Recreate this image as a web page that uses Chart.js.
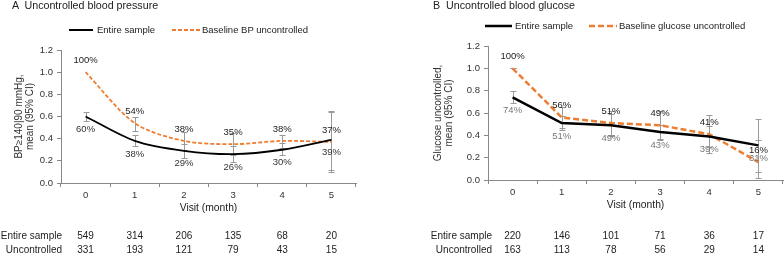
<!DOCTYPE html>
<html>
<head>
<meta charset="utf-8">
<script src="https://cdn.jsdelivr.net/npm/chart.js@4/dist/chart.umd.min.js"></script>
<style>
  body { margin: 0; background: #fff; font-family: "Liberation Sans", Arial, sans-serif; color: #222; }
  #wrap { position: relative; width: 784px; height: 254px; overflow: hidden; }
  canvas { position: absolute; top: 0; }
  .ttl { position: absolute; top: -1px; font-size: 10.7px; line-height: 12px; white-space: pre; color: #222; }
  .leg { position: absolute; font-size: 9.5px; line-height: 11px; white-space: nowrap; color: #222; }
</style>
</head>
<body>
<div id="wrap">
  <canvas id="bpChart" width="392" height="254" style="left:0"></canvas>
  <canvas id="glChart" width="392" height="254" style="left:392px"></canvas>

  <div class="ttl" style="left:12px">A  Uncontrolled blood pressure</div>
  <div class="ttl" style="left:433px">B  Uncontrolled blood glucose</div>

  <svg style="position:absolute;left:0;top:0" width="784" height="40">
    <line x1="69" y1="30" x2="93" y2="30" stroke="#000" stroke-width="2"/>
    <line x1="172" y1="30" x2="200" y2="30" stroke="#ED7D31" stroke-width="1.8" stroke-dasharray="4,2"/>
    <line x1="485" y1="26" x2="512" y2="26" stroke="#000" stroke-width="2.5"/>
    <line x1="589" y1="26" x2="617" y2="26" stroke="#ED7D31" stroke-width="2.5" stroke-dasharray="6,3"/>
  </svg>
  <div class="leg" style="left:97px;top:24px">Entire sample</div>
  <div class="leg" style="left:202px;top:24px">Baseline BP uncontrolled</div>
  <div class="leg" style="left:515px;top:20px">Entire sample</div>
  <div class="leg" style="left:619px;top:20px">Baseline glucose uncontrolled</div>
</div>

<script>
// ── Data ──────────────────────────────────────────────────────────────────────
const visits = ['0', '1', '2', '3', '4', '5'];

// A: blood pressure
const bpEntire   = [0.60, 0.38, 0.29, 0.26, 0.30, 0.39];
const bpEntireLo = [0.56, 0.33, 0.23, 0.19, 0.25, 0.12];
const bpEntireHi = [0.64, 0.43, 0.35, 0.33, 0.36, 0.65];
const bpUnc      = [1.00, 0.54, 0.38, 0.35, 0.38, 0.37];
const bpUncLo    = [null, 0.47, 0.30, 0.25, 0.32, 0.10];
const bpUncHi    = [null, 0.60, 0.46, 0.45, 0.43, 0.64];
const bpNEntire  = [549, 314, 206, 135, 68, 20];
const bpNUnc     = [331, 193, 121, 79, 43, 15];

// B: blood glucose
const glEntire   = [0.74, 0.51, 0.49, 0.43, 0.39, 0.31];
const glEntireLo = [0.69, 0.45, 0.39, 0.37, 0.30, 0.07];
const glEntireHi = [0.80, 0.57, 0.59, 0.49, 0.48, 0.55];
const glUnc      = [1.00, 0.56, 0.51, 0.49, 0.41, 0.16];
const glUncLo    = [1.00, 0.47, 0.40, 0.36, 0.24, 0.02];
const glUncHi    = [1.00, 0.65, 0.62, 0.62, 0.58, 0.36];
const glNEntire  = [220, 146, 101, 71, 36, 17];
const glNUnc     = [163, 113, 78, 56, 29, 14];

const yTicks = [0, 0.2, 0.4, 0.6, 0.8, 1.0, 1.2];

const ORANGE = '#ED7D31';
const FONT = '"Liberation Sans", Arial, sans-serif';

// ── Plugins ───────────────────────────────────────────────────────────────────
const errorBars = {
  id: 'errorBars',
  beforeDatasetsDraw(chart) {
    const { ctx } = chart, y = chart.scales.y;
    ctx.save();
    ctx.strokeStyle = '#9a9a9a';
    ctx.lineWidth = 1;
    chart.data.datasets.forEach((ds, i) => {
      chart.getDatasetMeta(i).data.forEach((pt, j) => {
        if (ds.lo[j] == null) return;
        const x = Math.round(pt.x) + 0.5;
        const t = Math.round(y.getPixelForValue(ds.hi[j])) + 0.5;
        const b = Math.round(y.getPixelForValue(ds.lo[j])) + 0.5;
        ctx.beginPath();
        ctx.moveTo(x, t); ctx.lineTo(x, b);
        ctx.moveTo(x - 3, t); ctx.lineTo(x + 3, t);
        ctx.moveTo(x - 3, b); ctx.lineTo(x + 3, b);
        ctx.stroke();
      });
    });
    ctx.restore();
  },
};

const pctLabels = {
  id: 'pctLabels',
  afterDatasetsDraw(chart) {
    const { ctx } = chart;
    ctx.save();
    ctx.font = `9.5px ${FONT}`;
    ctx.textAlign = 'center';
    ctx.textBaseline = 'middle';
    chart.data.datasets.forEach((ds, i) => {
      ctx.fillStyle = ds.labelColor;
      chart.getDatasetMeta(i).data.forEach((pt, j) => {
        const dy = ds.labelAbove ? -12 : 13;
        ctx.fillText(Math.round(ds.data[j] * 100) + '%', pt.x, pt.y + dy);
      });
    });
    ctx.restore();
  },
};

const bottomTable = {
  id: 'bottomTable',
  afterDraw(chart, args, opts) {
    const { ctx, chartArea } = chart, x = chart.scales.x;
    ctx.save();
    ctx.fillStyle = '#222';
    ctx.textBaseline = 'middle';
    ctx.font = `10.3px ${FONT}`;
    ctx.textAlign = 'center';
    ctx.fillText('Visit (month)', (chartArea.left + chartArea.right) / 2, chartArea.bottom + 25);
    ctx.font = `10px ${FONT}`;
    opts.rows.forEach((row, r) => {
      const yy = opts.rowY[r];
      ctx.textAlign = 'right';
      ctx.fillText(row.label, chartArea.left + opts.labelDx, yy);
      ctx.textAlign = 'center';
      row.values.forEach((v, j) => ctx.fillText(String(v), x.getPixelForValue(j), yy));
    });
    ctx.restore();
  },
};

// ── Chart factory ─────────────────────────────────────────────────────────────
function makePanel(canvasId, p) {
  return new Chart(document.getElementById(canvasId), {
    type: 'line',
    data: {
      labels: visits,
      datasets: [
        { label: 'Entire sample', data: p.entire, lo: p.entireLo, hi: p.entireHi,
          borderColor: '#000', borderWidth: p.lw, pointRadius: 0, tension: p.tension,
          labelAbove: false, labelColor: p.entireLabelColor },
        { label: p.uncLabel, data: p.unc, lo: p.uncLo, hi: p.uncHi,
          borderColor: ORANGE, borderWidth: p.lw, borderDash: p.dash, pointRadius: 0, tension: p.tension,
          labelAbove: true, labelColor: '#222' },
      ],
    },
    options: {
      responsive: false,
      animation: false,
      devicePixelRatio: 1,
      layout: { padding: { top: p.top, right: p.right, left: 0, bottom: 0 } },
      plugins: {
        legend: { display: false },
        tooltip: { enabled: false },
        bottomTable: { rows: p.rows, rowY: [236, 250], labelDx: p.labelDx },
      },
      scales: {
        x: {
          offset: true,
          grid: { offset: true, drawOnChartArea: false, tickLength: 4, color: '#888' },
          border: { color: '#888' },
          ticks: { font: { size: 9.5, family: FONT }, color: '#333', padding: 3, maxRotation: 0 },
          afterFit: (s) => { s.width; s.height = 254 - p.bottom; },
        },
        y: {
          min: 0, max: 1.2,
          afterBuildTicks: (s) => { s.ticks = yTicks.map((v) => ({ value: v })); },
          grid: { drawOnChartArea: false, tickLength: 4, color: '#888' },
          border: { color: '#888' },
          ticks: { font: { size: 9.5, family: FONT }, color: '#333', padding: 4,
                   callback: (v) => v.toFixed(1) },
          title: { display: true, text: p.yTitle, font: { size: 10, family: FONT, lineHeight: 1.1 },
                   color: '#333', padding: { top: p.titlePad, bottom: 0 } },
          afterFit: (s) => { s.width = p.left; },
        },
      },
    },
    plugins: [errorBars, pctLabels, bottomTable],
  });
}

makePanel('bpChart', {
  entire: bpEntire, entireLo: bpEntireLo, entireHi: bpEntireHi,
  unc: bpUnc, uncLo: bpUncLo, uncHi: bpUncHi,
  uncLabel: 'Baseline BP uncontrolled',
  lw: 1.8, dash: [4, 2], tension: 0.3, entireLabelColor: '#333',
  top: 50, right: 36, left: 61, bottom: 183, labelDx: 1, titlePad: 14,
  yTitle: ['BP\u2265140|90 mmHg,', 'mean (95% CI)'],
  rows: [{ label: 'Entire sample', values: bpNEntire }, { label: 'Uncontrolled', values: bpNUnc }],
});

makePanel('glChart', {
  entire: glEntire, entireLo: glEntireLo, entireHi: glEntireHi,
  unc: glUnc, uncLo: glUncLo, uncHi: glUncHi,
  uncLabel: 'Baseline glucose uncontrolled',
  lw: 2.5, dash: [6, 3], tension: 0, entireLabelColor: '#777',
  top: 46, right: 1, left: 96, bottom: 180, labelDx: 4, titlePad: 41,
  yTitle: ['Glucose uncontrolled,', 'mean (95% CI)'],
  rows: [{ label: 'Entire sample', values: glNEntire }, { label: 'Uncontrolled', values: glNUnc }],
});
</script>
</body>
</html>
